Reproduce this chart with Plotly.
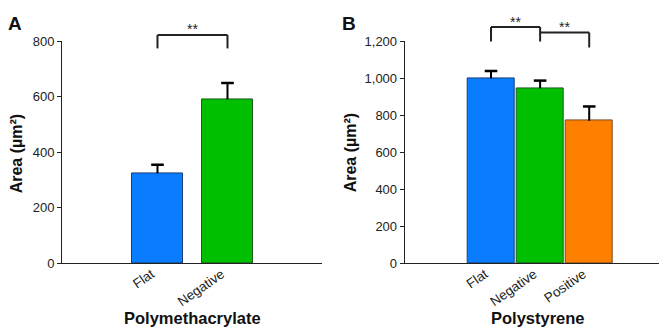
import plotly.graph_objects as go

W, H = 667, 328

# ---- data ----
cats_a = ["Flat", "Negative"]
vals_a = [324, 591]
errs_a = [31, 59]

cats_b = ["Flat", "Negative", "Positive"]
vals_b = [1000, 947, 771]
errs_b = [40, 41, 77]

yticks_a = [0, 200, 400, 600, 800]
ytext_a = ["0", "200", "400", "600", "800"]
yticks_b = [0, 200, 400, 600, 800, 1000, 1200]
ytext_b = ["0", "200", "400", "600", "800", "1,000", "1,200"]

colors_a = ["#0A7CFF", "#00BE00"]
edges_a = ["#1B3F75", "#1F5A1F"]
colors_b = ["#0A7CFF", "#00BE00", "#FF8000"]
edges_b = ["#1B3F75", "#1F5A1F", "#7A4A20"]

FONT = "Liberation Sans, Arial, sans-serif"


def px(x):
    return x / W


def py(y):
    return 1 - y / H


fig = go.Figure()


def add_panel(cats, vals, errs, colors, edges, width, xa, ya):
    fig.add_trace(go.Bar(
        x=cats, y=vals, width=width,
        marker=dict(color=colors, line=dict(color=edges, width=1)),
        xaxis=xa, yaxis=ya, showlegend=False, hoverinfo="skip",
    ))
    # upper-only error bars: stem + cap
    sx, sy = [], []
    for c, v, e in zip(cats, vals, errs):
        sx += [c, c, None]
        sy += [v, v + e, None]
    fig.add_trace(go.Scatter(
        x=sx, y=sy, mode="lines", line=dict(color="black", width=2),
        xaxis=xa, yaxis=ya, showlegend=False, hoverinfo="skip", cliponaxis=False,
    ))
    fig.add_trace(go.Scatter(
        x=cats, y=[v + e for v, e in zip(vals, errs)], mode="markers",
        marker=dict(symbol="line-ew", size=9, line=dict(color="black", width=2.5)),
        xaxis=xa, yaxis=ya, showlegend=False, hoverinfo="skip", cliponaxis=False,
    ))


add_panel(cats_a, vals_a, errs_a, colors_a, edges_a, 0.73, "x", "y")
add_panel(cats_b, vals_b, errs_b, colors_b, edges_b, 0.96, "x2", "y2")

ydom = [py(260), py(27.7)]
axis_common = dict(showgrid=False, zeroline=False, showline=True,
                   linecolor="#222", linewidth=1)
xcommon = dict(type="category", ticks="", tickangle=-35,
               ticklabelshift=-6, ticklabelstandoff=-3,
               tickfont=dict(size=13.5, family=FONT, color="#222"), **axis_common)
ycommon = dict(ticks="outside", ticklen=4, tickwidth=1, tickcolor="#222",
               tickfont=dict(size=13, family=FONT, color="#222"), **axis_common)

fig.update_layout(
    width=W, height=H,
    margin=dict(l=0, r=0, t=0, b=0),
    paper_bgcolor="white", plot_bgcolor="white",
    font=dict(family=FONT, color="#111"),
    bargap=0,
    xaxis=dict(domain=[px(54), px(314)], range=[-1.364, 2.35], anchor="y", **xcommon),
    yaxis=dict(domain=ydom, range=[0, 800], anchor="x",
               tickvals=yticks_a, ticktext=ytext_a, **ycommon),
    xaxis2=dict(domain=[px(396.7), px(652.3)], range=[-1.758, 3.448], anchor="y2", **xcommon),
    yaxis2=dict(domain=ydom, range=[0, 1200], anchor="x2",
                tickvals=yticks_b, ticktext=ytext_b, **ycommon),
)

br = dict(color="#222", width=2)
shapes = []


def bracket(xref, x0, x1, ytop, yl, yr):
    shapes.append(dict(type="line", xref=xref, yref="paper", x0=x0, x1=x1,
                       y0=py(ytop), y1=py(ytop), line=br))
    if yl is not None:
        shapes.append(dict(type="line", xref=xref, yref="paper", x0=x0, x1=x0,
                           y0=py(ytop), y1=py(yl), line=br))
    if yr is not None:
        shapes.append(dict(type="line", xref=xref, yref="paper", x0=x1, x1=x1,
                           y0=py(ytop), y1=py(yr), line=br))


bracket("x", 0, 1, 21, 35, 35)
bracket("x2", 0, 1, 12.7, 27.7, 27.7)
bracket("x2", 1, 2, 18.3, None, 34)
fig.update_layout(shapes=shapes)

ann = []
star_font = dict(size=14, color="#222", family=FONT)
ann.append(dict(text="**", xref="x", yref="paper", x=0.5, y=py(15),
                showarrow=False, font=star_font, xanchor="center", yanchor="middle"))
ann.append(dict(text="**", xref="x2", yref="paper", x=0.5, y=py(7),
                showarrow=False, font=star_font, xanchor="center", yanchor="middle"))
ann.append(dict(text="**", xref="x2", yref="paper", x=1.5, y=py(12.5),
                showarrow=False, font=star_font, xanchor="center", yanchor="middle"))
# panel letters
ann.append(dict(text="<b>A</b>", xref="paper", yref="paper", x=px(7), y=py(8.5),
                showarrow=False, font=dict(size=19, color="#111"),
                xanchor="center", yanchor="middle"))
ann.append(dict(text="<b>B</b>", xref="paper", yref="paper", x=px(341), y=py(8.5),
                showarrow=False, font=dict(size=19, color="#111"),
                xanchor="center", yanchor="middle"))
# axis titles
ann.append(dict(text="<b>Area (µm²)</b>", xref="paper", yref="paper",
                x=px(8), y=py(146), textangle=-90, showarrow=False,
                font=dict(size=16, color="#111"), xanchor="center", yanchor="middle"))
ann.append(dict(text="<b>Area (µm²)</b>", xref="paper", yref="paper",
                x=px(342), y=py(145), textangle=-90, showarrow=False,
                font=dict(size=16, color="#111"), xanchor="center", yanchor="middle"))
ann.append(dict(text="<b>Polymethacrylate</b>", xref="paper", yref="paper",
                x=px(184.5), y=py(318), showarrow=False,
                font=dict(size=16.5, color="#111"), xanchor="center", yanchor="middle"))
ann.append(dict(text="<b>Polystyrene</b>", xref="paper", yref="paper",
                x=px(530), y=py(318), showarrow=False,
                font=dict(size=16.5, color="#111"), xanchor="center", yanchor="middle"))
fig.update_layout(annotations=ann)

fig.write_html("out.html")
